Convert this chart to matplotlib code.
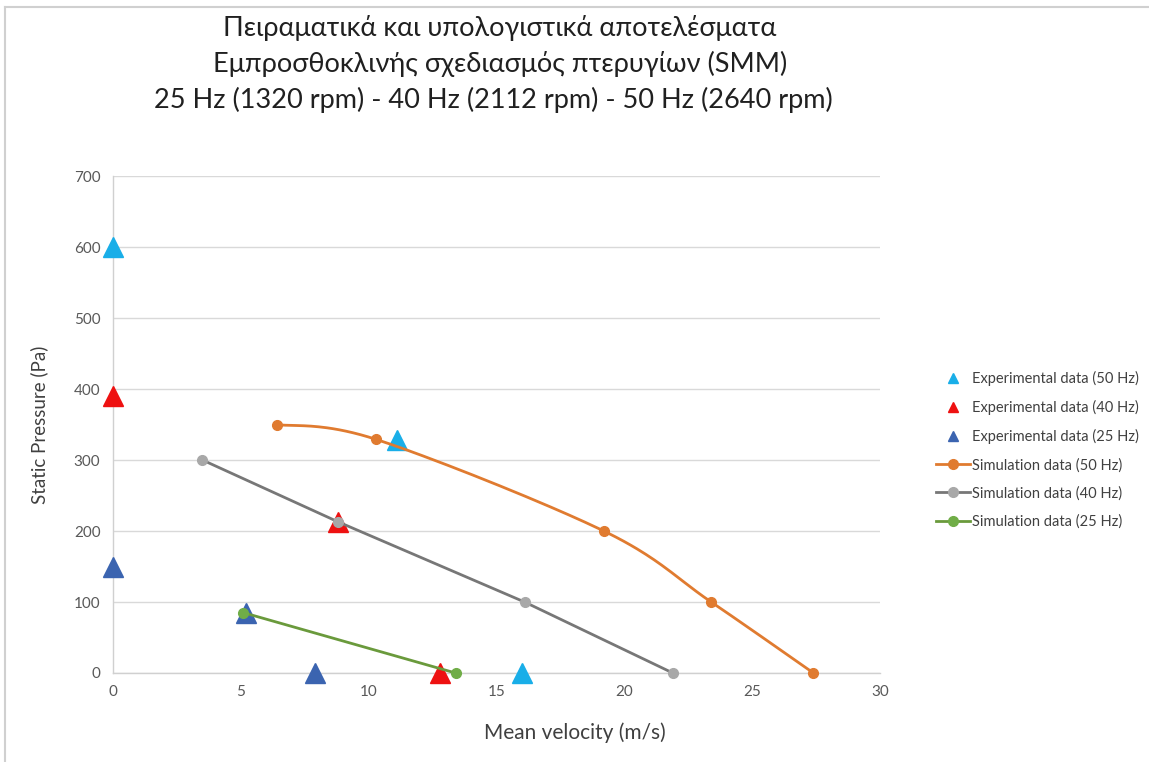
import numpy as np
import matplotlib
matplotlib.use("Agg")
import matplotlib.pyplot as plt
from matplotlib.lines import Line2D

plt.rcParams['font.family'] = ['Lato', 'DejaVu Sans']

# Experimental measurements (velocity m/s, static pressure Pa)
exp50_v = [0.0, 11.1, 16.0]
exp50_p = [600, 328, 0]
exp40_v = [0.0, 8.8, 12.8]
exp40_p = [390, 213, 0]
exp25_v = [0.0, 5.2, 7.9]
exp25_p = [150, 85, 0]

# Simulation results
sim50_v = [6.4, 10.3, 19.2, 23.4, 27.4]
sim50_p = [350, 329, 200, 100, 0]
sim40_v = [3.5, 8.8, 16.1, 21.9]
sim40_p = [300, 213, 100, 0]
sim25_v = [5.1, 13.4]
sim25_p = [85, 0]

x_ticks = [0, 5, 10, 15, 20, 25, 30]
y_ticks = [0, 100, 200, 300, 400, 500, 600, 700]

title_lines = [
    "Πειραματικά και υπολογιστικά αποτελέσματα",
    "Εμπροσθοκλινής σχεδιασμός πτερυγίων (SMM)",
    "25 Hz (1320 rpm) - 40 Hz (2112 rpm) - 50 Hz (2640 rpm)",
]

C_EXP50 = "#19aee8"
C_EXP40 = "#ee1111"
C_EXP25 = "#3b64b0"
C_SIM50 = "#e07b30"
C_SIM40_LINE = "#777777"
C_SIM40_MK = "#a8a8a8"
C_SIM25_LINE = "#6a9a3c"
C_SIM25_MK = "#70ad47"


def smooth(xs, ys, n=40):
    """Cubic Bezier smoothing through points (Catmull-Rom style)."""
    pts = np.column_stack([xs, ys]).astype(float)
    out = [pts[0]]
    for i in range(len(pts) - 1):
        p0 = pts[i - 1] if i > 0 else pts[i]
        p1 = pts[i]
        p2 = pts[i + 1]
        p3 = pts[i + 2] if i + 2 < len(pts) else pts[i + 1]
        c1 = p1 + (p2 - p0) / 6.0
        c2 = p2 - (p3 - p1) / 6.0
        t = np.linspace(0, 1, n)[1:, None]
        seg = ((1 - t) ** 3) * p1 + 3 * ((1 - t) ** 2) * t * c1 \
            + 3 * (1 - t) * t ** 2 * c2 + t ** 3 * p2
        out.extend(seg)
    out = np.array(out)
    return out[:, 0], out[:, 1]


fig = plt.figure(figsize=(11.49, 7.62), dpi=100)
ax = fig.add_axes([0.0983, 0.1168, 0.6675, 0.6522])

ax.set_xlim(0, 30)
ax.set_ylim(0, 700)
ax.set_xticks(x_ticks)
ax.set_yticks(y_ticks)
ax.grid(axis='y', color='#d9d9d9', linewidth=1.0)
ax.set_axisbelow(True)
for s in ['top', 'right']:
    ax.spines[s].set_visible(False)
for s in ['left', 'bottom']:
    ax.spines[s].set_color('#d0d0d0')
    ax.spines[s].set_linewidth(1.0)
ax.tick_params(length=0, labelsize=11, colors='#595959', pad=9)

tri_kw = dict(linestyle='none', marker='^', markersize=15, clip_on=False, zorder=3)
ax.plot(exp50_v, exp50_p, color=C_EXP50, **tri_kw)
ax.plot(exp40_v, exp40_p, color=C_EXP40, **tri_kw)
ax.plot(exp25_v, exp25_p, color=C_EXP25, **tri_kw)

sx, sy = smooth(sim50_v, sim50_p)
ax.plot(sx, sy, color=C_SIM50, linewidth=2.0, zorder=4, clip_on=False)
ax.plot(sim50_v, sim50_p, linestyle='none', marker='o', markersize=7,
        color=C_SIM50, zorder=5, clip_on=False)
ax.plot(sim40_v, sim40_p, color=C_SIM40_LINE, linewidth=2.0, zorder=4,
        marker='o', markersize=7, markerfacecolor=C_SIM40_MK,
        markeredgecolor=C_SIM40_MK, clip_on=False)
ax.plot(sim25_v, sim25_p, color=C_SIM25_LINE, linewidth=2.0, zorder=4,
        marker='o', markersize=7, markerfacecolor=C_SIM25_MK,
        markeredgecolor=C_SIM25_MK, clip_on=False)

fig.text(575 / 1149, 1 - 733 / 762, "Mean velocity (m/s)", ha='center',
         va='center', fontsize=15, color='#404040')
fig.text(39 / 1149, 1 - 425 / 762, "Static Pressure (Pa)", ha='center',
         va='center', rotation=90, fontsize=13.5, color='#404040')

title_x = [0.435, 0.435, 0.429]
for i, line in enumerate(title_lines):
    fig.text(title_x[i], 1 - (28 + 36 * i) / 762, line, ha='center', va='center',
             fontsize=19.5, color='#202020')

handles = [
    Line2D([], [], linestyle='none', marker='^', markersize=7, color=C_EXP50),
    Line2D([], [], linestyle='none', marker='^', markersize=7, color=C_EXP40),
    Line2D([], [], linestyle='none', marker='^', markersize=7, color=C_EXP25),
    Line2D([], [], color=C_SIM50, linewidth=2, marker='o', markersize=7),
    Line2D([], [], color=C_SIM40_LINE, linewidth=2, marker='o', markersize=7,
           markerfacecolor=C_SIM40_MK, markeredgecolor=C_SIM40_MK),
    Line2D([], [], color=C_SIM25_LINE, linewidth=2, marker='o', markersize=7,
           markerfacecolor=C_SIM25_MK, markeredgecolor=C_SIM25_MK),
]
labels = [
    "Experimental data (50 Hz)",
    "Experimental data (40 Hz)",
    "Experimental data (25 Hz)",
    "Simulation data (50 Hz)",
    "Simulation data (40 Hz)",
    "Simulation data (25 Hz)",
]
leg = fig.legend(handles, labels, loc='center left',
                 bbox_to_anchor=(936 / 1149, 1 - 450 / 762), frameon=False,
                 fontsize=10.5, labelspacing=0.95, handlelength=2.3,
                 handletextpad=0.15, borderaxespad=0, borderpad=0)
for t in leg.get_texts():
    t.set_color('#404040')

# chart-area border
fig.add_artist(Line2D([5 / 1149, 5 / 1149], [0, 1 - 7 / 762],
                      color='#d0d0d0', linewidth=1.5))
fig.add_artist(Line2D([5 / 1149, 1], [1 - 7 / 762, 1 - 7 / 762],
                      color='#d0d0d0', linewidth=1.5))

fig.savefig("out.png", dpi=100, facecolor='white')
